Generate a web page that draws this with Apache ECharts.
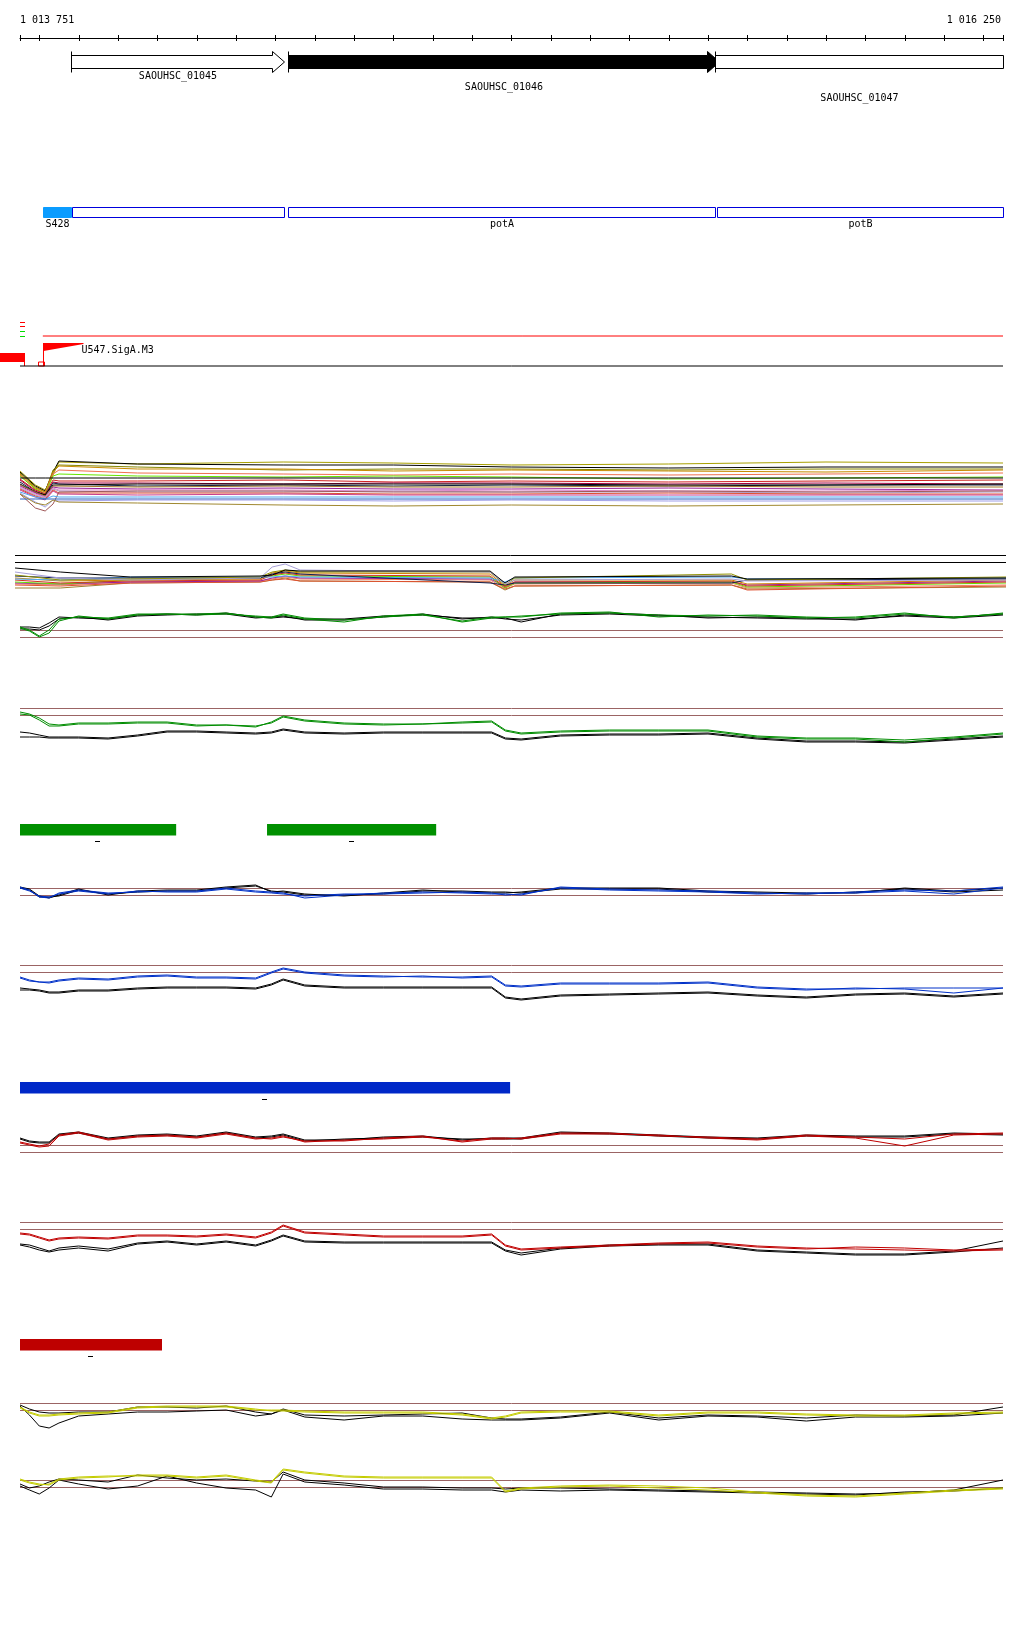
<!DOCTYPE html>
<html>
<head>
<meta charset="utf-8">
<title>SAOUHSC_01046 locus</title>
<script src="https://cdn.jsdelivr.net/npm/echarts@6/dist/echarts.min.js"></script>
<style>
  html, body { margin: 0; padding: 0; background: #fff; }
  #chart { width: 1024px; height: 1640px; }
</style>
</head>
<body>
<div id="chart"></div>
<script>
// genome window
var XMIN = 1013751, XMAX = 1016250;
var FONT = '10px "DejaVu Sans Mono", "Liberation Mono", monospace';

var RULER_TICKS = [1013751, 1013800, 1013900, 1014000, 1014100, 1014200, 1014300, 1014400, 1014500,
  1014600, 1014700, 1014800, 1014900, 1015000, 1015100, 1015200, 1015300, 1015400, 1015500,
  1015600, 1015700, 1015800, 1015900, 1016000, 1016100, 1016200, 1016250];
var RULER_LABELS = ['1 013 751', '1 016 250'];

// genes
var GENE_NAMES = ['SAOUHSC_01045', 'SAOUHSC_01046', 'SAOUHSC_01047'];
var GENE_STARTS = [1013881, 1014433, 1015519];
var GENE_ENDS = [1014422, 1015527, 1016250];
var FOCUS_GENE = 'SAOUHSC_01046';

// transcription units
var TU_NAMES = ['S428', '', 'potA', 'potB'];
var TU_STARTS = [1013809, 1013882, 1014433, 1015523];
var TU_ENDS = [1013881, 1014421, 1015518, 1016250];
var TU_TYPES = ['ncRNA', 'operon', 'operon', 'operon'];

// promoters
var PROMOTER_NAMES = ['U547.SigA.M3'];
var PROMOTER_POS = [1013809];
var PROMOTER_SCORE = [23];
var PROMOTER_CUTOFF = 30;

// multi-condition track A
var POS_A = [1013751, 1013790, 1013815, 1013835, 1013850, 1014050, 1014420, 1014700, 1015000, 1015400, 1015800, 1016250];
var A_OLIVE = [44, 30, 25, 40, 53, 51, 53, 52, 50, 51, 53, 52];
var A_BLACK_1 = [43, 29, 24, 43, 54, 51, 50, 50, 48, 47, 48, 48];
var A_DARK_OLIVE = [42, 28, 23, 45, 50, 48, 45, 46, 46, 45, 46, 46];
var A_ORANGE = [41, 27, 23, 43, 49, 46, 46, 44, 45, 44, 43, 45];
var A_SALMON = [40, 26, 22, 41, 45, 42, 41, 40, 41, 40, 41, 42];
var A_GREEN = [39, 26, 21, 39, 41, 39, 38, 39, 38, 36, 37, 38];
var A_BLACK_2 = [37, 37, 37, 37, 37, 37, 37, 37, 37, 37, 37, 37];
var A_RED = [36, 25, 21, 35, 34, 34, 35, 33, 34, 33, 34, 35];
var A_MAROON = [35, 24, 20, 33, 32, 32, 31, 32, 32, 31, 32, 31];
var A_NAVY = [33, 23, 20, 32, 31, 29, 30, 29, 30, 29, 30, 30];
var A_BLACK_3 = [31, 23, 20, 30, 30, 31, 31, 31, 31, 30, 30, 31];
var A_OCHRE = [30, 23, 19, 29, 29, 28, 29, 28, 28, 29, 28, 28];
var A_PURPLE = [29, 22, 18, 28, 27, 26, 27, 26, 26, 27, 26, 25];
var A_PINK = [28, 21, 18, 27, 25, 25, 25, 24, 25, 24, 24, 25];
var A_MAUVE = [27, 20, 17, 26, 24, 23, 23, 24, 23, 23, 22, 23];
var A_VERMILION = [26, 19, 16, 25, 22, 22, 22, 21, 21, 22, 21, 21];
var A_MAGENTA = [25, 18, 15, 24, 21, 20, 21, 20, 20, 20, 20, 20];
var A_BROWN = [21, 7, 4, 11, 23, 24, 24, 23, 23, 24, 23, 24];
var A_SKY = [23, 18, 16, 19, 18, 18, 18, 18, 18, 18, 18, 18];
var A_BLUE = [16, 16, 16, 16, 16, 16, 16, 16, 16, 16, 16, 16];
var A_LAVENDER = [22, 13, 8, 15, 14, 15, 15, 14, 15, 14, 14, 14];
var A_KHAKI = [21, 12, 10, 15, 13, 12, 10, 9, 10, 9, 10, 11];

// multi-condition track B
var POS_B = [1013738, 1013853, 1014031, 1014361, 1014392, 1014425, 1014463, 1014946, 1014984, 1015009, 1015560, 1015600, 1016258];
var B_LEVELS = [39.5, 32.5];
var B_BLACK = [27, 23, 18, 19, 20, 25, 24, 24, 12, 18, 19, 16, 17];
var B_LAVENDER = [23, 17, 15, 17, 28, 31, 25, 23, 11, 15, 16, 14, 15];
var B_OLIVE = [20, 15, 16, 18, 23, 25, 23, 23, 10, 17, 21, 15, 18];
var B_ORANGE = [17, 14, 15, 16, 22, 24, 22, 21, 9, 15, 15, 11, 15];
var B_RED = [15, 12, 14, 15, 20, 22, 20, 19, 8, 13, 14, 9, 13];
var B_GREEN = [13, 11, 15, 17, 19, 21, 19, 18, 7, 12, 13, 8, 12];
var B_SKY = [16, 15, 18, 18, 18, 19, 18, 17, 13, 17, 18, 16, 17];
var B_SALMON = [11, 10, 13, 14, 16, 18, 16, 15, 7, 11, 12, 7, 10];
var B_PURPLE = [12, 11, 13, 14, 17, 19, 17, 16, 9, 13, 13, 10, 14];
var B_OCHRE = [7, 7, 12, 13, 15, 17, 14, 13, 5, 9, 10, 6, 8];
var B_NAVY = [19, 17, 17, 17, 21, 23, 21, 12, 10, 12, 12, 15, 16];
var B_VERMILION = [10, 9, 12, 13, 15, 16, 14, 13, 6, 9, 10, 5, 9];

// paired profile tracks
var POS = [1013751, 1013775, 1013800, 1013825, 1013850, 1013900, 1013975, 1014050,
  1014125, 1014200, 1014275, 1014350, 1014390, 1014420, 1014475, 1014575,
  1014675, 1014775, 1014875, 1014950, 1014985, 1015025, 1015125, 1015250,
  1015375, 1015500, 1015625, 1015750, 1015875, 1016000, 1016125, 1016250];

var C_LEVELS = [14.5, 7.5];
var C_GREEN_1 = [18, 15, 9, 15, 26, 28, 27, 31, 31, 31, 32, 28, 27, 30, 26, 23, 29, 31, 23, 27, 28, 28, 32, 33, 28, 30, 29, 27, 28, 32, 27, 32];
var C_GREEN_2 = [17, 14, 8, 12, 24, 29, 26, 30, 31, 30, 31, 29, 28, 31, 27, 25, 28, 30, 24, 28, 28, 29, 31, 32, 30, 29, 30, 28, 27, 31, 28, 31];
var C_BLACK_1 = [18, 18, 17, 22, 28, 27, 26, 30, 31, 30, 32, 28, 27, 28, 26, 26, 29, 30, 27, 27, 27, 23, 31, 32, 30, 27, 28, 27, 25, 30, 28, 31];
var C_BLACK_2 = [16, 16, 15, 19, 26, 28, 25, 29, 30, 31, 31, 27, 28, 29, 25, 25, 28, 31, 26, 28, 26, 25, 30, 31, 29, 28, 27, 26, 26, 29, 27, 30];

var D_LEVELS = [41.5, 34.5];
var D_GREEN_1 = [38, 36, 32, 26, 25, 27, 27, 28, 28, 25, 25, 23, 28, 34, 30, 27, 26, 26, 28, 29, 20, 17, 19, 20, 20, 20, 14, 12, 12, 10, 13, 17];
var D_GREEN_2 = [36, 35, 30, 24, 24, 26, 26, 27, 27, 24, 25, 24, 27, 33, 29, 26, 25, 26, 27, 28, 19, 16, 18, 19, 19, 19, 13, 11, 11, 8, 12, 16];
var D_BLACK_1 = [18, 17, 15, 13, 13, 13, 12, 15, 19, 19, 18, 17, 18, 21, 18, 17, 18, 18, 18, 18, 12, 11, 15, 16, 16, 17, 12, 9, 9, 8, 11, 14];
var D_BLACK_2 = [13, 13, 13, 12, 12, 12, 11, 14, 18, 18, 17, 16, 17, 20, 17, 16, 17, 17, 17, 17, 11, 10, 14, 15, 15, 16, 11, 8, 8, 7, 10, 13];

var E_LEVELS = [21.5, 14.5];
var E_BLUE_1 = [23, 20, 13, 12, 17, 20, 17, 18, 19, 19, 22, 19, 18, 17, 12, 15, 17, 18, 17, 16, 16, 15, 23, 21, 20, 19, 17, 16, 18, 20, 19, 23];
var E_BLUE_2 = [22, 19, 14, 13, 16, 19, 16, 19, 18, 18, 21, 18, 17, 16, 14, 16, 16, 17, 18, 17, 15, 16, 22, 20, 19, 18, 16, 17, 17, 19, 16, 22];
var E_BLACK_1 = [23, 21, 14, 12, 15, 21, 15, 19, 20, 20, 23, 25, 18, 19, 16, 14, 17, 20, 18, 17, 17, 18, 22, 22, 22, 19, 18, 17, 17, 22, 19, 22];
var E_BLACK_2 = [22, 20, 13, 13, 14, 20, 16, 18, 19, 19, 22, 24, 19, 18, 15, 15, 16, 19, 19, 18, 18, 17, 21, 21, 21, 18, 17, 16, 18, 21, 18, 20];

var F_LEVELS = [39.5, 32.5];
var F_BLUE_1 = [28, 25, 23, 23, 25, 27, 26, 29, 30, 28, 28, 27, 33, 37, 33, 30, 29, 28, 28, 29, 20, 19, 22, 22, 22, 23, 18, 16, 16, 17, 17, 17];
var F_BLUE_2 = [27, 24, 23, 22, 24, 26, 25, 28, 29, 27, 27, 26, 32, 36, 32, 29, 28, 29, 27, 28, 19, 18, 21, 21, 21, 22, 17, 15, 17, 16, 12, 17];
var F_BLACK_1 = [17, 16, 15, 13, 13, 15, 15, 17, 18, 18, 18, 17, 21, 26, 20, 18, 18, 18, 18, 18, 8, 6, 10, 11, 12, 13, 10, 8, 11, 12, 9, 12];
var F_BLACK_2 = [15, 15, 14, 12, 12, 14, 14, 16, 17, 17, 17, 16, 20, 25, 19, 17, 17, 17, 17, 17, 7, 5, 9, 10, 11, 12, 9, 7, 10, 11, 8, 11];

var G_LEVELS = [14.5, 7.5];
var G_RED_1 = [18, 16, 14, 16, 25, 28, 21, 24, 25, 23, 27, 22, 21, 23, 19, 19, 22, 24, 18, 21, 21, 22, 27, 27, 24, 23, 21, 25, 23, 21, 26, 27];
var G_RED_2 = [17, 15, 13, 14, 24, 27, 20, 23, 24, 22, 26, 21, 22, 24, 18, 20, 21, 23, 19, 22, 22, 21, 26, 26, 25, 22, 20, 24, 22, 14, 25, 26];
var G_BLACK_1 = [22, 19, 18, 18, 26, 28, 22, 25, 26, 24, 28, 23, 24, 26, 20, 20, 23, 24, 20, 22, 22, 22, 28, 27, 25, 23, 22, 25, 24, 24, 27, 26];
var G_BLACK_2 = [21, 18, 17, 17, 25, 27, 21, 24, 25, 23, 27, 22, 23, 25, 19, 21, 22, 23, 21, 21, 21, 21, 27, 26, 24, 22, 21, 24, 23, 23, 26, 25];

var H_LEVELS = [37.5, 30.5];
var H_RED_1 = [27, 26, 23, 20, 22, 23, 22, 25, 25, 24, 26, 23, 28, 35, 28, 26, 24, 24, 24, 26, 15, 11, 13, 15, 17, 18, 14, 12, 11, 10, 9, 10];
var H_RED_2 = [26, 25, 22, 19, 21, 22, 21, 24, 24, 23, 25, 22, 27, 34, 27, 25, 23, 23, 23, 25, 14, 10, 12, 14, 16, 17, 13, 11, 13, 12, 10, 11];
var H_BLACK_1 = [16, 15, 12, 9, 12, 14, 11, 17, 19, 16, 19, 15, 20, 25, 19, 18, 18, 18, 18, 18, 10, 7, 12, 15, 16, 16, 10, 8, 6, 6, 9, 19];
var H_BLACK_2 = [15, 13, 10, 8, 10, 12, 9, 16, 18, 15, 18, 14, 19, 24, 18, 17, 17, 17, 17, 17, 9, 5, 11, 14, 15, 15, 9, 7, 5, 5, 8, 12];

var I_LEVELS = [36.5, 29.5];
var I_YELLOW_1 = [33, 28, 25, 25, 26, 27, 28, 33, 34, 34, 34, 31, 29, 29, 28, 27, 27, 27, 25, 21, 23, 27, 28, 28, 24, 27, 27, 25, 24, 24, 26, 27];
var I_YELLOW_2 = [32, 27, 24, 24, 25, 26, 27, 32, 33, 33, 33, 30, 30, 30, 29, 28, 28, 28, 26, 22, 24, 28, 29, 29, 25, 28, 28, 26, 25, 25, 27, 28];
var I_BLACK_1 = [35, 31, 28, 27, 27, 28, 28, 33, 33, 32, 34, 28, 26, 31, 25, 24, 25, 26, 27, 22, 21, 21, 23, 28, 22, 25, 24, 22, 25, 24, 25, 33];
var I_BLACK_2 = [34, 25, 14, 12, 17, 24, 26, 28, 28, 29, 30, 24, 26, 30, 23, 20, 24, 24, 21, 20, 20, 20, 22, 27, 20, 24, 23, 19, 23, 23, 24, 27];

var J_LEVELS = [29.5, 22.5];
var J_YELLOW_1 = [31, 28, 26, 25, 30, 32, 33, 35, 35, 33, 35, 30, 28, 41, 38, 34, 33, 33, 33, 33, 19, 22, 24, 25, 24, 22, 18, 15, 14, 17, 20, 22];
var J_YELLOW_2 = [30, 27, 25, 26, 31, 33, 34, 34, 34, 32, 34, 29, 27, 40, 37, 33, 32, 32, 32, 32, 18, 21, 23, 24, 22, 20, 17, 14, 13, 16, 19, 21];
var J_BLACK_1 = [26, 22, 24, 28, 31, 30, 28, 35, 32, 30, 31, 29, 28, 38, 30, 27, 23, 23, 22, 22, 21, 22, 22, 21, 20, 19, 18, 17, 16, 17, 20, 30];
var J_BLACK_2 = [24, 20, 16, 22, 30, 26, 21, 24, 34, 27, 22, 20, 13, 36, 28, 25, 21, 21, 20, 20, 18, 20, 19, 20, 19, 18, 17, 16, 15, 18, 19, 22];

// condition bars
var GREEN_BAR_STARTS = [1013751, 1014379];
var GREEN_BAR_ENDS = [1014148, 1014809];
var BLUE_BAR_STARTS = [1013751];
var BLUE_BAR_ENDS = [1014997];
var RED_BAR_STARTS = [1013751];
var RED_BAR_ENDS = [1014112];
var BAR_STRAND = '-';

var BROWN = '#9b6464';
var GREEN = '#008c00', BLUE = '#0030c8', RED = '#c00000', YELLOW = '#c4cc00';

var grids = [], xAxes = [], yAxes = [], series = [];

function addPanel(top, height, ymin, ymax, left, width, xmin, xmax) {
  var i = grids.length;
  grids.push({ left: left || 20, top: top, width: width || 983, height: height });
  xAxes.push({ gridIndex: i, type: 'value', min: xmin || XMIN, max: xmax || XMAX, show: false });
  yAxes.push({ gridIndex: i, type: 'value', min: ymin, max: ymax, show: false });
  return i;
}

function addLine(panel, pos, vals, color) {
  series.push({
    type: 'line', xAxisIndex: panel, yAxisIndex: panel, silent: true,
    symbol: 'none', lineStyle: { color: color, width: 1 },
    data: pos.map(function (p, k) { return [p, vals[k]]; })
  });
}

function addLevels(panel, levels, color, from, to) {
  levels.forEach(function (v) {
    addLine(panel, [from || XMIN, to || XMAX], [v, v], color);
  });
}

function addPair(top, height, levels, col, c1, c2, k1, k2) {
  var p = addPanel(top, height, 0, height);
  addLevels(p, levels, BROWN);
  addLine(p, POS, k1, '#000');
  addLine(p, POS, k2, '#000');
  addLine(p, POS, c1, col);
  addLine(p, POS, c2, col);
}

function addBars(top, starts, ends, color) {
  var p = addPanel(top, 25, 0, 1);
  series.push({
    type: 'custom', xAxisIndex: p, yAxisIndex: p, silent: true,
    encode: { x: [0, 1], y: 2 },
    data: starts.map(function (s, k) { return [s, ends[k], 0]; }),
    renderItem: function (params, api) {
      var cs = params.coordSys;
      var x0 = api.coord([api.value(0), 0])[0];
      var x1 = api.coord([api.value(1), 0])[0];
      var y = cs.y + 4;
      var xm = Math.round((x0 + x1) / 2);
      // strand mark under the bar
      var mark = BAR_STRAND === '-'
        ? { type: 'line', shape: { x1: xm - 3, y1: y + 17.5, x2: xm + 2, y2: y + 17.5 }, style: { stroke: '#000', lineWidth: 1 } }
        : { type: 'text', style: { text: BAR_STRAND, x: xm, y: y + 17, align: 'center', verticalAlign: 'middle', font: FONT, fill: '#000' } };
      return { type: 'group', children: [
        { type: 'rect', shape: { x: x0, y: y, width: x1 - x0, height: 11.5 }, style: { fill: color } },
        mark
      ] };
    }
  });
}

// ruler
var pRuler = addPanel(20, 18, 0, 1);
xAxes[pRuler].show = true;
xAxes[pRuler].axisLine = { show: true, onZero: false, lineStyle: { color: '#000', width: 1 } };
xAxes[pRuler].axisTick = { show: false };
xAxes[pRuler].axisLabel = { show: false };
xAxes[pRuler].splitLine = { show: false };
series.push({
  type: 'custom', xAxisIndex: pRuler, yAxisIndex: pRuler, silent: true,
  encode: { x: 0, y: 1 },
  data: RULER_TICKS.map(function (t) { return [t, 0]; }),
  renderItem: function (params, api) {
    var pt = api.coord([api.value(0), 0]);
    var x = Math.round(pt[0]) + 0.5;
    return { type: 'line', shape: { x1: x, y1: pt[1] - 3, x2: x, y2: pt[1] + 3 }, style: { stroke: '#000', lineWidth: 1 } };
  }
});
series.push({
  type: 'custom', xAxisIndex: pRuler, yAxisIndex: pRuler, silent: true,
  encode: { x: 0, y: 1 },
  data: [[XMIN, 0], [XMAX, 0]],
  renderItem: function (params, api) {
    var pt = api.coord([api.value(0), 0]);
    return { type: 'text', style: { text: RULER_LABELS[params.dataIndex], x: pt[0] - (params.dataIndex ? 2 : 0), y: pt[1] - 18,
      align: params.dataIndex ? 'right' : 'left', verticalAlign: 'middle', font: FONT, fill: '#000' } };
  }
});

// genes
var pGenes = addPanel(45, 65, 0, 1);
series.push({
  type: 'custom', xAxisIndex: pGenes, yAxisIndex: pGenes, silent: true,
  encode: { x: [0, 1], y: 2 },
  data: GENE_STARTS.map(function (s, k) { return [s, GENE_ENDS[k], 0]; }),
  renderItem: function (params, api) {
    var cs = params.coordSys;
    var i = params.dataIndex;
    var end = api.value(1);
    var x0 = Math.round(api.coord([api.value(0), 0])[0]) + 0.5;
    var x1 = Math.round(api.coord([Math.min(end, XMAX), 0])[0]) + 0.5;
    var top = cs.y + 10.5, bot = top + 13, mid = (top + bot) / 2;
    var pts;
    if (end >= XMAX) {
      pts = [[x0, top], [x1, top], [x1, bot], [x0, bot]];
    } else {
      var xh = x1 - 12;
      pts = [[x0, top], [xh, top], [xh, top - 4], [x1, mid], [xh, bot + 4], [xh, bot], [x0, bot]];
    }
    var filled = GENE_NAMES[i] === FOCUS_GENE;
    return { type: 'group', children: [
      { type: 'polygon', shape: { points: pts }, style: { fill: filled ? '#000' : '#fff', stroke: '#000', lineWidth: 1 } },
      { type: 'line', shape: { x1: x0, y1: top - 4, x2: x0, y2: bot + 4 }, style: { stroke: '#000', lineWidth: 1 } },
      { type: 'text', style: { text: GENE_NAMES[i], x: (x0 + x1) / 2, y: bot + 8 + i * 10.75, align: 'center',
        verticalAlign: 'middle', font: FONT, fill: '#000' } }
    ] };
  }
});

// transcription units
var pTU = addPanel(200, 30, 0, 1);
series.push({
  type: 'custom', xAxisIndex: pTU, yAxisIndex: pTU, silent: true,
  encode: { x: [0, 1], y: 2 },
  data: TU_STARTS.map(function (s, k) { return [s, TU_ENDS[k], 0]; }),
  renderItem: function (params, api) {
    var cs = params.coordSys;
    var i = params.dataIndex;
    var x0 = Math.round(api.coord([api.value(0), 0])[0]) + 0.5;
    var x1 = Math.round(api.coord([api.value(1), 0])[0]) + 0.5;
    var y = cs.y + 7.5;
    var rna = TU_TYPES[i] === 'ncRNA';
    return { type: 'group', children: [
      { type: 'rect', shape: { x: x0, y: y, width: x1 - x0, height: 10 },
        style: rna ? { fill: '#0a9cff', stroke: '#0a9cff', lineWidth: 1 } : { fill: 'none', stroke: '#0000dd', lineWidth: 1 } },
      { type: 'text', style: { text: TU_NAMES[i], x: (x0 + x1) / 2, y: cs.y + 24, align: 'center',
        verticalAlign: 'middle', font: FONT, fill: '#000' } }
    ] };
  }
});

// promoters
var pProm = addPanel(330, 40, -4, 36);
addLine(pProm, [PROMOTER_POS[0], XMAX], [PROMOTER_CUTOFF, PROMOTER_CUTOFF], '#ff0000');
addLine(pProm, [XMIN, XMAX], [0, 0], '#000');
series.push({
  type: 'custom', xAxisIndex: pProm, yAxisIndex: pProm, silent: true,
  encode: { x: 0, y: 1 },
  data: PROMOTER_POS.map(function (p, k) { return [p, PROMOTER_SCORE[k]]; }),
  renderItem: function (params, api) {
    var base = api.coord([api.value(0), 0]);
    var tip = api.coord([api.value(0), api.value(1)]);
    var x = Math.round(base[0]) + 0.5;
    var y0 = base[1], y1 = tip[1];
    return { type: 'group', children: [
      { type: 'line', shape: { x1: x, y1: y0, x2: x, y2: y1 }, style: { stroke: '#ff0000', lineWidth: 1 } },
      { type: 'polygon', shape: { points: [[x, y1], [x + 40, y1], [x + 40, y1 + 1], [x, y1 + 8]] }, style: { fill: '#ff0000' } },
      { type: 'rect', shape: { x: x - 5, y: y0 - 4, width: 6, height: 4 }, style: { fill: 'none', stroke: '#ff0000', lineWidth: 1 } },
      { type: 'text', style: { text: PROMOTER_NAMES[params.dataIndex], x: x + 38, y: y1 + 7, align: 'left',
        verticalAlign: 'middle', font: FONT, fill: '#000' } }
    ] };
  }
});

// track A
var pA = addPanel(455, 60, 0, 60);
[[A_OLIVE, '#a8a000'], [A_BLACK_1, '#000'], [A_DARK_OLIVE, '#868600'], [A_ORANGE, '#c88a00'],
 [A_SALMON, '#f07050'], [A_GREEN, '#66e600'], [A_BLACK_2, '#000'], [A_RED, '#d02020'],
 [A_MAROON, '#a00040'], [A_NAVY, '#102040'], [A_BLACK_3, '#000'], [A_OCHRE, '#a07828'],
 [A_PURPLE, '#9a209a'], [A_PINK, '#e088c8'], [A_MAUVE, '#b0a0c8'], [A_VERMILION, '#e05030'],
 [A_MAGENTA, '#c83c8c'], [A_BROWN, '#a05858'], [A_SKY, '#50a8f0'], [A_BLUE, '#2860c0'],
 [A_LAVENDER, '#a0a0e8'], [A_KHAKI, '#a08830']].forEach(function (s) {
  addLine(pA, POS_A, s[0], s[1]);
});

// track B
var pB = addPanel(550, 45, 0, 45, 15, 991, POS_B[0], POS_B[POS_B.length - 1]);
addLevels(pB, B_LEVELS, '#000', POS_B[0], POS_B[POS_B.length - 1]);
[[B_OCHRE, '#a08030'], [B_VERMILION, '#e05030'], [B_SALMON, '#f08060'], [B_PURPLE, '#9a209a'],
 [B_GREEN, '#60e000'], [B_RED, '#d03020'], [B_ORANGE, '#d08000'], [B_SKY, '#50a8f0'],
 [B_NAVY, '#102050'], [B_OLIVE, '#909000'], [B_LAVENDER, '#a8a0d8'], [B_BLACK, '#000']].forEach(function (s) {
  addLine(pB, POS_B, s[0], s[1]);
});

// paired tracks and condition bars
addPair(600, 45, C_LEVELS, GREEN, C_GREEN_1, C_GREEN_2, C_BLACK_1, C_BLACK_2);
addPair(700, 50, D_LEVELS, GREEN, D_GREEN_1, D_GREEN_2, D_BLACK_1, D_BLACK_2);
addBars(820, GREEN_BAR_STARTS, GREEN_BAR_ENDS, '#009000');
addPair(870, 40, E_LEVELS, BLUE, E_BLUE_1, E_BLUE_2, E_BLACK_1, E_BLACK_2);
addPair(955, 50, F_LEVELS, BLUE, F_BLUE_1, F_BLUE_2, F_BLACK_1, F_BLACK_2);
addBars(1078, BLUE_BAR_STARTS, BLUE_BAR_ENDS, '#0028c8');
addPair(1115, 45, G_LEVELS, RED, G_RED_1, G_RED_2, G_BLACK_1, G_BLACK_2);
addPair(1210, 50, H_LEVELS, RED, H_RED_1, H_RED_2, H_BLACK_1, H_BLACK_2);
addBars(1335, RED_BAR_STARTS, RED_BAR_ENDS, '#be0000');
addPair(1390, 50, I_LEVELS, YELLOW, I_YELLOW_1, I_YELLOW_2, I_BLACK_1, I_BLACK_2);
addPair(1455, 55, J_LEVELS, YELLOW, J_YELLOW_1, J_YELLOW_2, J_BLACK_1, J_BLACK_2);

var chart = echarts.init(document.getElementById('chart'));
chart.setOption({
  animation: false,
  backgroundColor: '#ffffff',
  grid: grids,
  xAxis: xAxes,
  yAxis: yAxes,
  series: series,
  // promoter scale marks in the left margin
  graphic: [
    { type: 'rect', shape: { x: 0, y: 353, width: 25, height: 9 }, style: { fill: '#ff0000' } },
    { type: 'line', shape: { x1: 24.5, y1: 361, x2: 24.5, y2: 366 }, style: { stroke: '#ff0000', lineWidth: 1 } },
    { type: 'line', shape: { x1: 20, y1: 322.5, x2: 25, y2: 322.5 }, style: { stroke: '#ff0000', lineWidth: 1 } },
    { type: 'line', shape: { x1: 20, y1: 326.5, x2: 25, y2: 326.5 }, style: { stroke: '#ff0000', lineWidth: 1 } },
    { type: 'line', shape: { x1: 20, y1: 331.5, x2: 25, y2: 331.5 }, style: { stroke: '#00dd00', lineWidth: 1 } },
    { type: 'line', shape: { x1: 20, y1: 336.5, x2: 25, y2: 336.5 }, style: { stroke: '#00dd00', lineWidth: 1 } }
  ]
});
</script>
</body>
</html>
